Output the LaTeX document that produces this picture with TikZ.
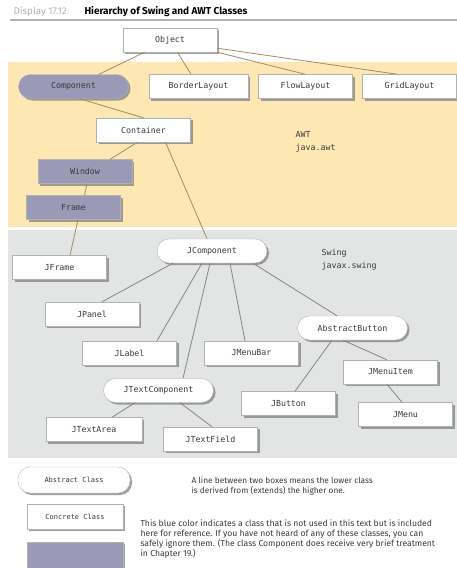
\documentclass[tikz,border=0pt]{standalone}
\usepackage{fontspec}
\setmainfont{Fira Sans}
\newfontfamily\classfont{DejaVu Sans Mono}
\usetikzlibrary{shadows}
\definecolor{AwtYellow}{HTML}{FDE8B4}
\definecolor{SwingGray}{HTML}{E3E5E5}
\definecolor{UnusedBlue}{HTML}{9A9AB6}
\definecolor{AwtLine}{HTML}{A08E5C}
\definecolor{SwingLine}{HTML}{858585}
\definecolor{BoxText}{HTML}{3A3A3A}
\tikzset{
  concrete/.style={draw=gray!60, fill=white, text=BoxText, minimum width=94pt,
    minimum height=24pt, inner sep=0pt, font=\classfont\fontsize{8.3}{10}\selectfont,
    drop shadow={shadow xshift=2pt, shadow yshift=-2pt, fill=gray, opacity=0.75}},
  abstract/.style={concrete, rounded corners=12pt, minimum width=110pt},
  unused/.style={concrete, fill=UnusedBlue},
  awtedge/.style={AwtLine, line width=0.8pt},
  swingedge/.style={SwingLine, line width=0.8pt},
  pkglabel/.style={anchor=north west, align=left, text=BoxText, font=\classfont\fontsize{8.3}{12.5}\selectfont},
  legendtext/.style={anchor=north west, align=left, text=BoxText, font=\fontsize{8.3}{10}\selectfont},
}

\begin{document}
\begin{tikzpicture}[x=1pt, y=-1pt]
    \useasboundingbox (0,0) rectangle (457,568);

    % Title
    \node[anchor=west, text=gray!60, font=\fontsize{9.8}{10}\selectfont] (disp) at (10,12) {Display 17.12};
    \node[anchor=west, font=\fontsize{10}{10}\selectfont\bfseries] (title) at (81,12) {Hierarchy of Swing and AWT Classes};
    \draw[gray!60, line width=1.2pt] (10,20) -- (457,20);

    % Package backgrounds
    \fill[AwtYellow] (8,62) rectangle (457,227);
    \fill[SwingGray] (8,230) rectangle (457,458);
    \node[pkglabel] (awt) at (292,128) {AWT\\java.awt};
    \node[pkglabel] (swing) at (318,246) {Swing\\javax.swing};

    % Top of the hierarchy
    \node[concrete] (obj) at (170,40) {Object};

    % AWT classes
    \node[abstract, fill=UnusedBlue] (comp) at (73.5,86.5) {Component};
    \node[concrete, minimum width=99pt] (border) at (198.5,86.5) {BorderLayout};
    \node[concrete] (flow) at (305.5,86.5) {FlowLayout};
    \node[concrete] (grid) at (409.5,86.5) {GridLayout};
    \node[concrete] (cont) at (143.5,130) {Container};
    \node[unused] (win) at (85,171.5) {Window};
    \node[unused] (frame) at (73.5,207.5) {Frame};

    % Swing classes
    \node[abstract] (jcomp) at (212,251) {JComponent};
    \node[concrete] (jframe) at (59.5,267.5) {JFrame};
    \node[concrete] (jpanel) at (92,314) {JPanel};
    \node[abstract] (abtn) at (352.5,328) {AbstractButton};
    \node[concrete] (jlabel) at (129.5,353) {JLabel};
    \node[concrete] (jmenubar) at (251.5,353) {JMenuBar};
    \node[concrete] (jmenuitem) at (390.5,372) {JMenuItem};
    \node[abstract] (jtext) at (158.5,390.5) {JTextComponent};
    \node[concrete] (jbutton) at (288.5,403.5) {JButton};
    \node[concrete] (jmenu) at (405.5,414.5) {JMenu};
    \node[concrete, minimum width=96pt] (jtextarea) at (94,429.5) {JTextArea};
    \node[concrete] (jtextfield) at (210.5,439) {JTextField};

    % Inheritance lines (AWT)
    \draw[awtedge] (obj) -- (comp);
    \draw[awtedge] (obj) -- (border);
    \draw[awtedge] (obj.south east) -- (flow.north);
    \draw[awtedge] ([yshift=4pt]obj.south east) -- ([xshift=-12pt]grid.north);
    \draw[awtedge] ([xshift=6pt]comp.south) -- (cont.north);
    \draw[awtedge] ([xshift=-6pt]cont.south) -- ([xshift=25pt]win.north);
    \draw[awtedge] ([xshift=22pt]cont.south) -- ([xshift=-5pt]jcomp.north);
    \draw[awtedge] ([xshift=2pt]win.south) -- ([xshift=11pt]frame.north);
    \draw[awtedge] ([xshift=4.5pt]frame.south) -- ([xshift=10.5pt]jframe.north);

    % Inheritance lines (Swing)
    \draw[swingedge] ([xshift=-39pt]jcomp.south) -- ([xshift=10pt]jpanel.north);
    \draw[swingedge] ([xshift=-10pt]jcomp.south) -- ([xshift=27.5pt]jlabel.north);
    \draw[swingedge] ([xshift=-2pt]jcomp.south) -- ([xshift=24.5pt]jtext.north);
    \draw[swingedge] ([xshift=18pt]jcomp.south) -- ([xshift=-6.5pt]jmenubar.north);
    \draw[swingedge] ([xshift=41pt]jcomp.south) -- ([xshift=-15.5pt]abtn.north);
    \draw[swingedge] ([xshift=-20.5pt]abtn.south) -- ([xshift=6.5pt]jbutton.north);
    \draw[swingedge] ([xshift=-9.5pt]abtn.south) -- ([xshift=-3.5pt]jmenuitem.north);
    \draw[swingedge] ([xshift=-3.5pt]jmenuitem.south) -- ([xshift=-3.5pt]jmenu.north);
    \draw[swingedge] ([xshift=-23.5pt]jtext.south) -- ([xshift=18pt]jtextarea.north);
    \draw[swingedge] ([xshift=21.5pt]jtext.south) -- ([xshift=1.5pt]jtextfield.north);

    % Legend
    \node[abstract, minimum width=112pt, minimum height=26pt, font=\classfont\fontsize{7}{9}\selectfont] (keyabs) at (74,480) {Abstract Class};
    \node[concrete, minimum width=96pt, minimum height=25pt, font=\classfont\fontsize{7}{9}\selectfont] (keycon) at (75,516.5) {Concrete Class};
    \node[unused, minimum width=96pt, minimum height=26pt] (keyuse) at (75,555) {};
    \node[legendtext] (note1) at (188,473) {A line between two boxes means the lower class\\is derived from (extends) the higher one.};
    \node[legendtext, font=\fontsize{8.6}{10}\selectfont] (note2) at (137,516) {This blue color indicates a class that is not used in this text but is included\\here for reference. If you have not heard of any of these classes, you can\\safely ignore them. (The class Component does receive very brief treatment\\in Chapter 19.)};
\end{tikzpicture}
\end{document}
